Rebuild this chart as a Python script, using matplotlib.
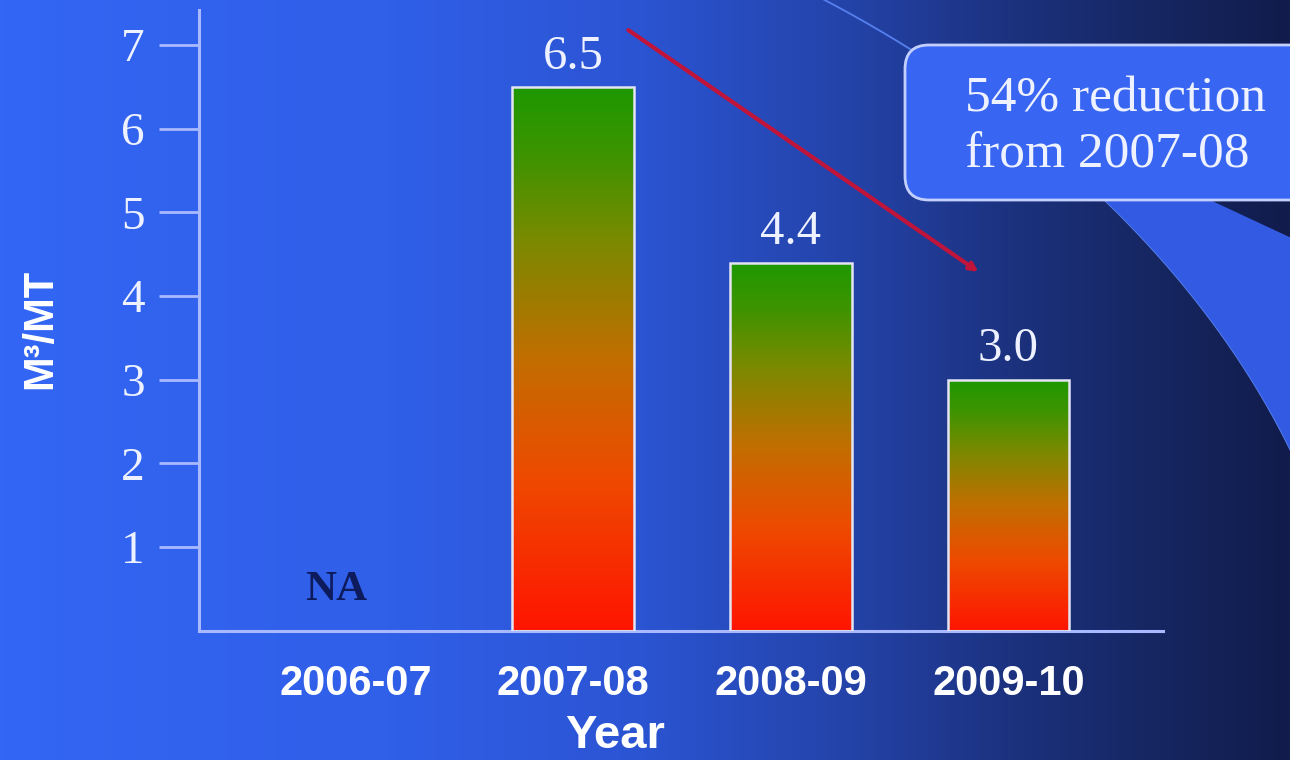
import numpy as np
import matplotlib
matplotlib.use("Agg")
import matplotlib.pyplot as plt
from matplotlib.colors import LinearSegmentedColormap
from matplotlib.patches import FancyBboxPatch, Polygon

# ---- data -------------------------------------------------------------
years = ["2006-07", "2007-08", "2008-09", "2009-10"]
water_use = [np.nan, 6.5, 4.4, 3.0]          # M3 per MT, 2006-07 not available
y_ticks = [1, 2, 3, 4, 5, 6, 7]
callout_text = "54% reduction\nfrom 2007-08"
missing_text = "NA"

# ---- styling ----------------------------------------------------------
W, H = 1290, 760
SERIF = ["Liberation Serif", "DejaVu Serif"]
SANS = ["Liberation Sans", "DejaVu Sans"]
AXIS_COL = "#a9b9ff"
TEXT_COL = "#eef1ff"

fig = plt.figure(figsize=(W / 100, H / 100), dpi=100)

# background layer in pixel units
bg = fig.add_axes([0, 0, 1, 1])
bg.set_xlim(0, W)
bg.set_ylim(H, 0)
bg.axis("off")

stops = [(0.00, "#3366f4"), (0.30, "#305fe8"), (0.50, "#2b54d2"),
         (0.66, "#2443a8"), (0.80, "#1b307a"), (0.92, "#15245c"),
         (1.00, "#111c4c")]
bg_cmap = LinearSegmentedColormap.from_list("bg", stops)
grad = np.linspace(0, 1, W)[None, :].repeat(H, axis=0)
bg.imshow(grad, cmap=bg_cmap, extent=(0, W, H, 0), aspect="auto",
          interpolation="bilinear", zorder=0)

# decorative swoosh on the right
t = np.linspace(0, 1, 300)[:, None]
P0, P1, P2, P3 = (np.array(p, float) for p in [(815, -5), (1000, 90), (1200, 250), (1300, 470)])
curve = (1 - t) ** 3 * P0 + 3 * (1 - t) ** 2 * t * P1 + 3 * (1 - t) * t ** 2 * P2 + t ** 3 * P3
bg.plot(curve[:, 0], curve[:, 1], color="#5580ee", lw=1.3, zorder=1)
lower = curve[curve[:, 1] >= 150]
band = np.vstack([lower, [[1300, 242], [1150, 172]]])
bg.add_patch(Polygon(band, closed=True, facecolor="#335ae2", edgecolor="none", zorder=1))

# callout box
bg.add_patch(FancyBboxPatch((905, 45), 430, 155,
                            boxstyle="round,pad=0,rounding_size=24",
                            facecolor="#3866f2", edgecolor="#c3d0ff",
                            lw=2.0, zorder=2))
# anchored on the baseline of the last line
bg.text(965, 167, callout_text, family=SERIF, fontsize=37, color=TEXT_COL,
        ha="left", va="baseline", linespacing=1.26, zorder=3)

# ---- chart axes -------------------------------------------------------
x0_px, x1_px, y0_px, y1_px = 199, 1163, 630.7, 10
ax = fig.add_axes([x0_px / W, (H - y0_px) / H, (x1_px - x0_px) / W, (y0_px - y1_px) / H])
ax.patch.set_alpha(0)

x = np.arange(len(years))
bar_w = 0.56
bars = ax.bar(x, water_use, width=bar_w, facecolor="none",
              edgecolor="#e4e4f2", linewidth=1.8, zorder=3)

bar_cmap = LinearSegmentedColormap.from_list(
    "bar", [(0.0, "#ff1500"), (0.28, "#ee4a00"), (0.5, "#c26e00"),
            (0.72, "#7a8a00"), (0.88, "#3c9400"), (1.0, "#1e9800")])
ramp = np.linspace(0, 1, 256)[:, None]
for rect, val in zip(bars.patches, water_use):
    if not np.isfinite(val):
        continue
    bx = rect.get_x()
    im = ax.imshow(ramp, cmap=bar_cmap, origin="lower", aspect="auto",
                   extent=(bx, bx + rect.get_width(), 0, val),
                   interpolation="bilinear", zorder=2)
    im.set_clip_path(rect)
    ax.text(bx + rect.get_width() / 2, val + 0.22, f"{val:.1f}",
            family=SERIF, fontsize=35, color=TEXT_COL,
            ha="center", va="baseline", zorder=4)

for xi, val in zip(x, water_use):
    if not np.isfinite(val):
        ax.text(xi - 0.09, 0.37, missing_text, family=SERIF, fontweight="bold",
                fontsize=31, color="#0d1b5c", ha="center", va="baseline")

ax.set_xlim(-0.72, 3.71)
ax.set_ylim(0, 7.42)

for side in ("top", "right"):
    ax.spines[side].set_visible(False)
for side in ("left", "bottom"):
    ax.spines[side].set_color(AXIS_COL)
    ax.spines[side].set_linewidth(2.2)

ax.set_yticks(y_ticks)
ax.set_yticklabels([str(v) for v in y_ticks], family=SERIF, fontsize=34, color=TEXT_COL)
ax.tick_params(axis="y", length=29, width=2.0, color=AXIS_COL, pad=10, direction="out")

ax.set_xticks(x)
ax.set_xticklabels(years, family=SANS, fontweight="bold", fontsize=30, color="white")
ax.tick_params(axis="x", length=0, pad=24)

# red trend arrow
ax.annotate("", xy=(2.862, 4.29), xytext=(1.253, 7.18),
            arrowprops=dict(arrowstyle="-|>", color="#c0143a", lw=3.0,
                            mutation_scale=12, shrinkA=0, shrinkB=0),
            annotation_clip=False, zorder=5)

# axis titles
fig.text(615 / W, 1 - 748 / H, "Year", family=SANS, fontweight="bold",
         fontsize=34, color="white", ha="center", va="baseline")
fig.text(40 / W, 1 - 329 / H, "M³/MT", family=SANS, fontweight="bold",
         fontsize=30, color="white", ha="center", va="center", rotation=90)

fig.savefig("out.png", dpi=100)
